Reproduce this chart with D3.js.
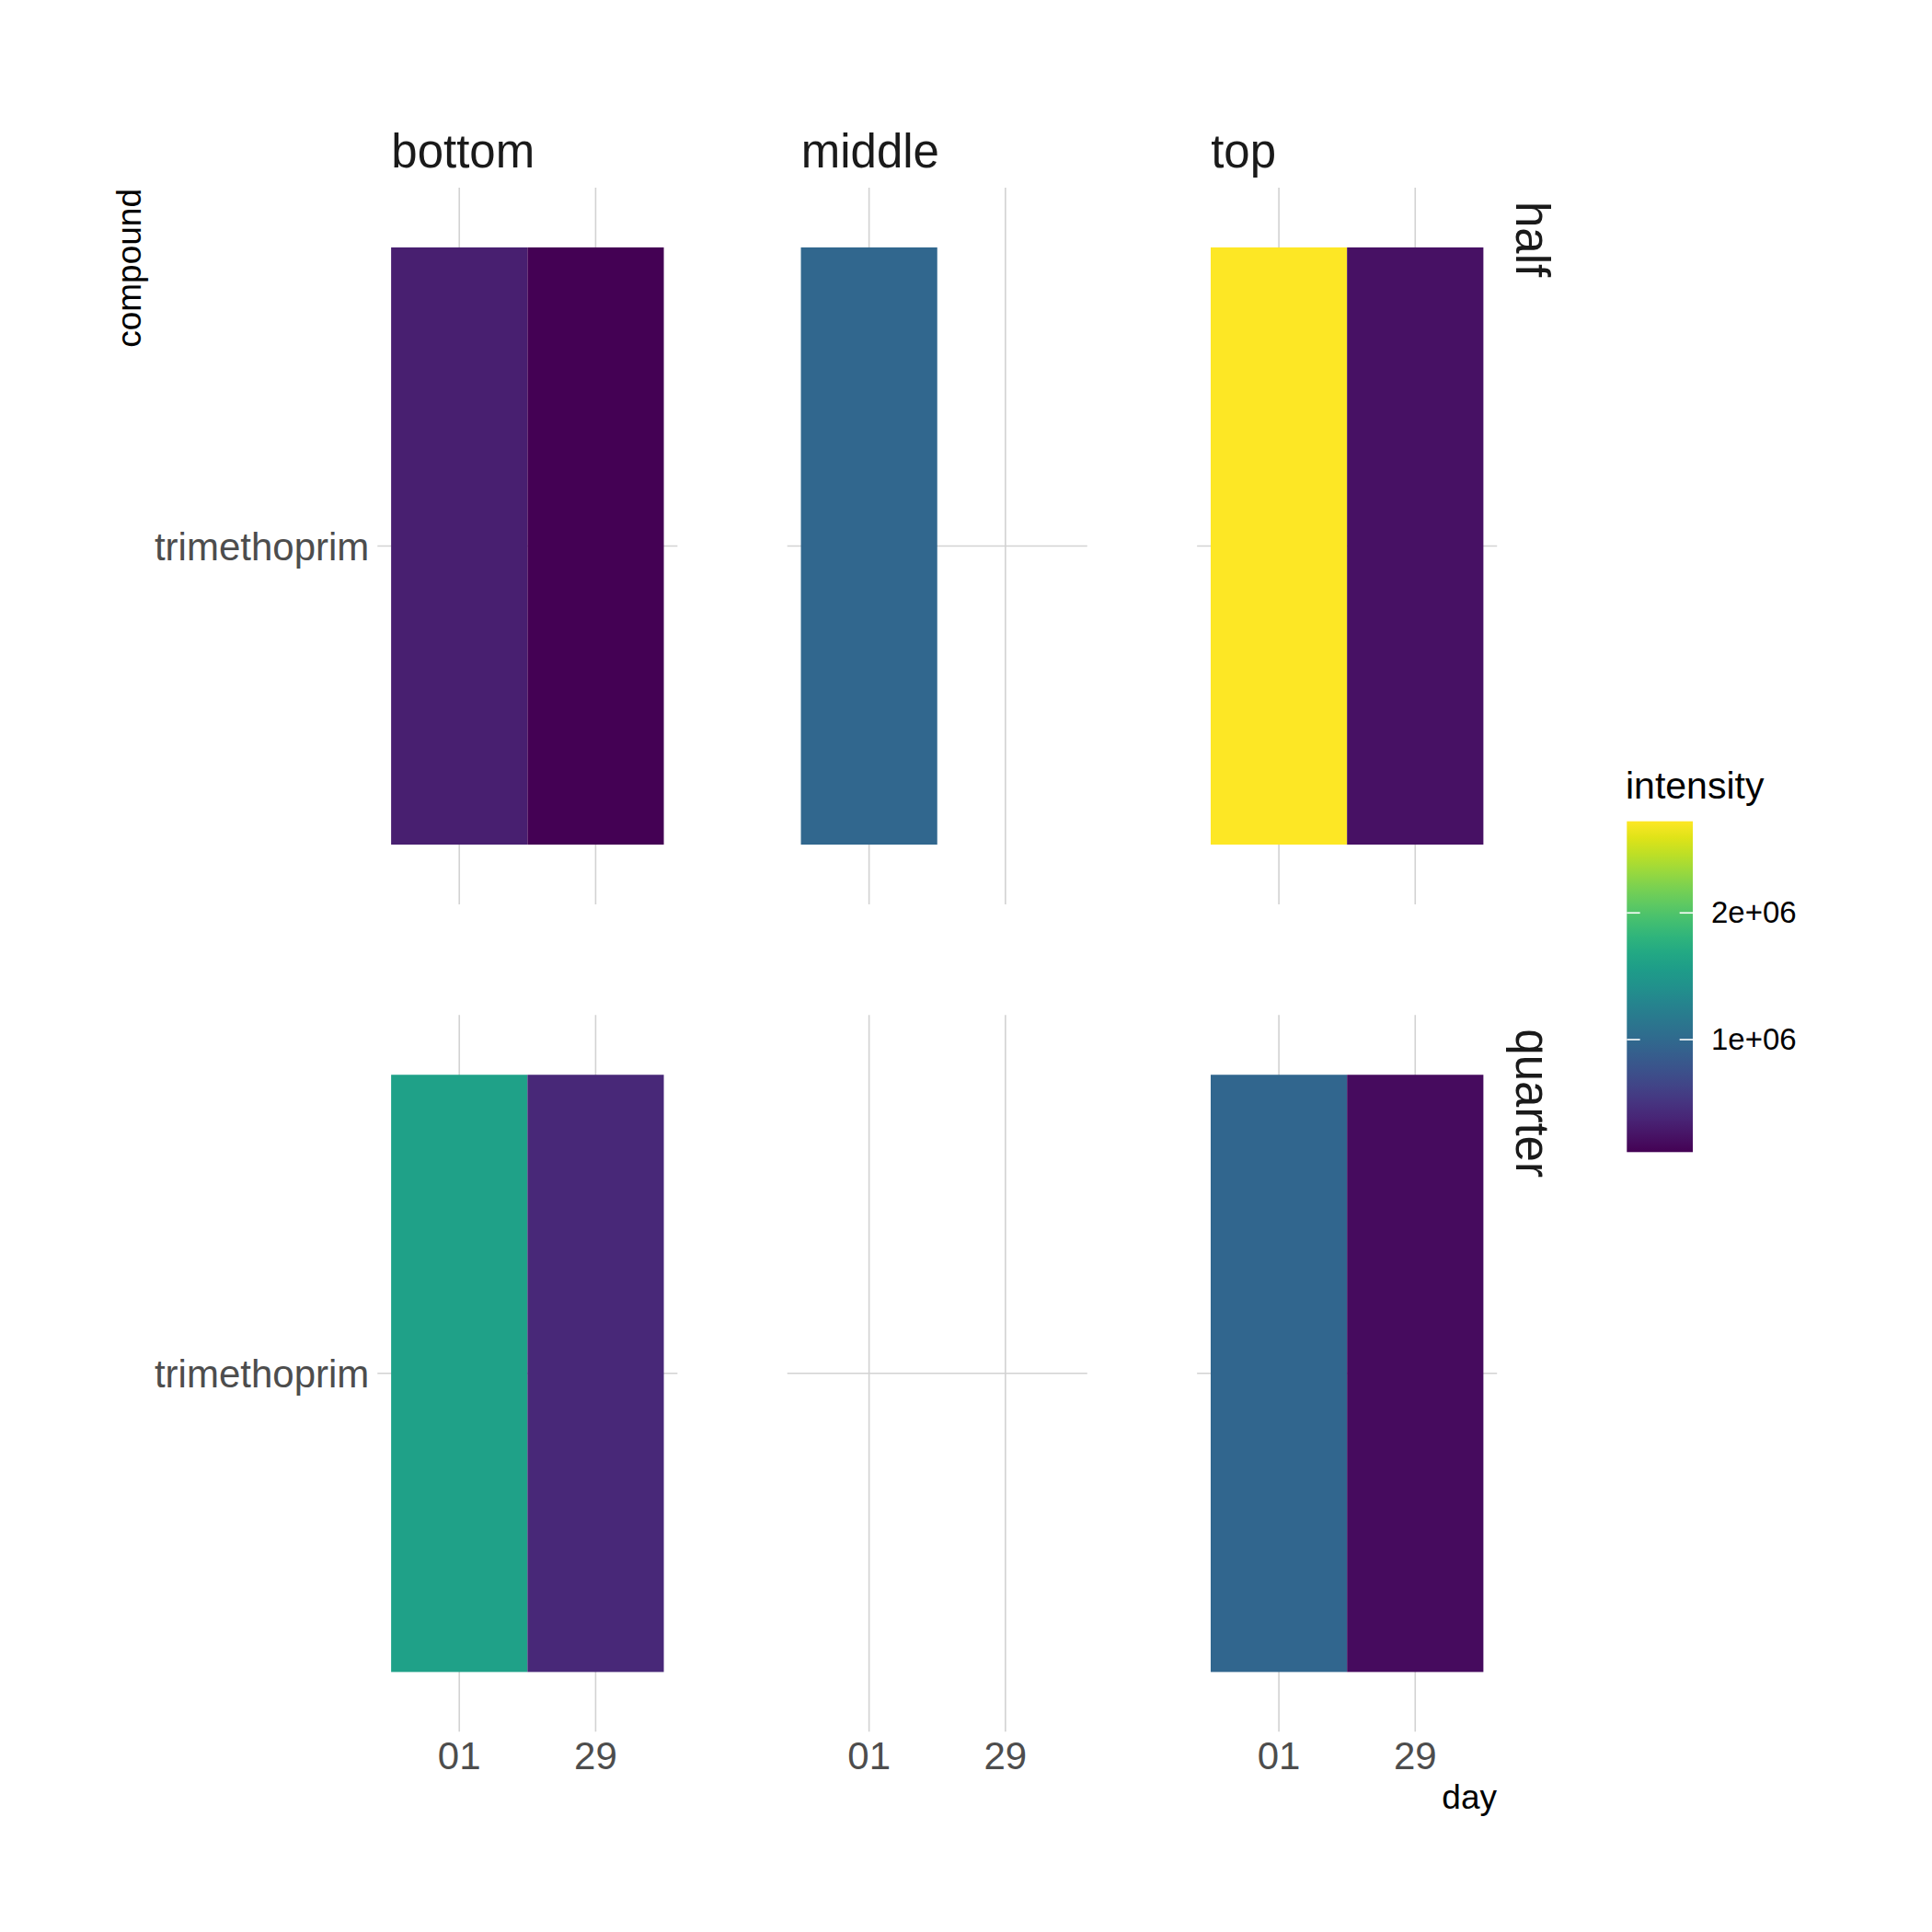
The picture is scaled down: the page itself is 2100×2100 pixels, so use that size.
<!DOCTYPE html>
<html>
<head>
<meta charset="utf-8">
<script src="https://cdn.jsdelivr.net/npm/d3@7"></script>
<style>
  body { margin: 0; background: #fff; }
  text { font-family: "Liberation Sans", Arial, sans-serif; }
</style>
</head>
<body>
<div id="chart"></div>
<script>
// Facets and categories
const positions = ["bottom", "middle", "top"];
const dilutions = ["half", "quarter"];
const days = ["01", "29"];
const compounds = ["trimethoprim"];

// intensity per position (bottom, middle, top); null = no measurement
const halfDay01 = [334000, 974000, 2723000];
const halfDay29 = [112000, null, 230000];
const quarterDay01 = [1600000, null, 960000];
const quarterDay29 = [399000, null, 190000];

const legendTicks = [1e6, 2e6];

// Build tile records from the arrays
const byDilution = { half: [halfDay01, halfDay29], quarter: [quarterDay01, quarterDay29] };
const tiles = [];
dilutions.forEach(dil => {
  positions.forEach((pos, pi) => {
    days.forEach((day, di) => {
      const v = byDilution[dil][di][pi];
      if (v != null) tiles.push({ dilution: dil, position: pos, day: day, compound: compounds[0], intensity: v });
    });
  });
});

const width = 2100, height = 2100;
const svg = d3.select("#chart").append("svg")
  .attr("width", width)
  .attr("height", height)
  .attr("viewBox", [0, 0, width, height]);

svg.append("rect").attr("width", width).attr("height", height).attr("fill", "#fff");

// Facet layout
const colScale = d3.scaleBand().domain(positions).range([410.3, 1627.2]).paddingInner(0.268);
const rowScale = d3.scaleBand().domain(dilutions).range([204, 1882.3]).paddingInner(0.1338);
const pw = colScale.bandwidth();
const ph = rowScale.bandwidth();

// Within-panel scales (ggplot discrete expansion)
const x = d3.scaleBand().domain(days).range([0, pw]).paddingInner(0).paddingOuter(0.1);
const y = d3.scaleBand().domain(compounds).range([0, ph]).paddingInner(0).paddingOuter(0.1);

const extent = d3.extent(tiles, d => d.intensity);
const colour = d3.scaleSequential(d3.interpolateViridis).domain(extent);

const gridColour = "#d2d2d2";

dilutions.forEach(dil => {
  positions.forEach(pos => {
    const g = svg.append("g")
      .attr("transform", `translate(${colScale(pos)},${rowScale(dil)})`);

    // grid lines
    g.selectAll("line.vx")
      .data(days)
      .join("line")
      .attr("x1", d => x(d) + x.bandwidth() / 2)
      .attr("x2", d => x(d) + x.bandwidth() / 2)
      .attr("y1", 0)
      .attr("y2", ph)
      .attr("stroke", gridColour)
      .attr("stroke-width", 1.6);

    g.selectAll("line.hy")
      .data(compounds)
      .join("line")
      .attr("x1", 0)
      .attr("x2", pw)
      .attr("y1", d => y(d) + y.bandwidth() / 2)
      .attr("y2", d => y(d) + y.bandwidth() / 2)
      .attr("stroke", gridColour)
      .attr("stroke-width", 1.6);

    // tiles
    g.selectAll("rect")
      .data(tiles.filter(t => t.dilution === dil && t.position === pos))
      .join("rect")
      .attr("x", d => x(d.day))
      .attr("y", d => y(d.compound))
      .attr("width", x.bandwidth())
      .attr("height", y.bandwidth())
      .attr("fill", d => colour(d.intensity));

    // y axis labels (first column only)
    if (pos === positions[0]) {
      const ax = g.append("g").call(d3.axisLeft(y).tickSize(0).tickPadding(9));
      ax.select(".domain").remove();
      ax.selectAll("text")
        .attr("font-size", 42)
        .attr("font-family", "Liberation Sans, Arial, sans-serif")
        .attr("fill", "#4d4d4d")
        .attr("dy", "0.36em");
    }

    // x axis labels (bottom row only)
    if (dil === dilutions[dilutions.length - 1]) {
      const ax = g.append("g")
        .attr("transform", `translate(0,${ph})`)
        .call(d3.axisBottom(x).tickSize(0).tickPadding(11));
      ax.select(".domain").remove();
      ax.selectAll("text")
        .attr("font-size", 42)
        .attr("font-family", "Liberation Sans, Arial, sans-serif")
        .attr("fill", "#4d4d4d");
    }
  });
});

// strip labels on top
svg.selectAll("text.strip-x")
  .data(positions)
  .join("text")
  .attr("class", "strip-x")
  .attr("x", d => colScale(d) + 15)
  .attr("y", 182)
  .attr("font-size", 51)
  .attr("fill", "#1a1a1a")
  .text(d => d);

// strip labels on the right
svg.selectAll("text.strip-y")
  .data(dilutions)
  .join("text")
  .attr("class", "strip-y")
  .attr("transform", d => `translate(1648,${rowScale(d) + 15}) rotate(90)`)
  .attr("font-size", 51)
  .attr("fill", "#1a1a1a")
  .text(d => d);

// axis titles
svg.append("text")
  .attr("x", 1627)
  .attr("y", 1966)
  .attr("text-anchor", "end")
  .attr("font-size", 37)
  .attr("fill", "#000")
  .text("day");

svg.append("text")
  .attr("transform", "translate(153,205) rotate(-90)")
  .attr("text-anchor", "end")
  .attr("font-size", 37)
  .attr("fill", "#000")
  .text("compound");

// colour bar legend
const barX = 1768.3, barW = 71.7, barTop = 892.7, barBottom = 1252.3;
const legendScale = d3.scaleLinear().domain(extent).range([barBottom, barTop]);

const defs = svg.append("defs");
const grad = defs.append("linearGradient")
  .attr("id", "viridis-grad")
  .attr("x1", 0).attr("y1", 1).attr("x2", 0).attr("y2", 0);
grad.selectAll("stop")
  .data(d3.range(0, 1.0001, 0.05))
  .join("stop")
  .attr("offset", d => d)
  .attr("stop-color", d => d3.interpolateViridis(d));

svg.append("text")
  .attr("x", 1767)
  .attr("y", 868)
  .attr("font-size", 41)
  .attr("fill", "#000")
  .text("intensity");

svg.append("rect")
  .attr("x", barX)
  .attr("y", barTop)
  .attr("width", barW)
  .attr("height", barBottom - barTop)
  .attr("fill", "url(#viridis-grad)");

const tickLen = barW * 0.2;
svg.selectAll("line.ltick-l")
  .data(legendTicks)
  .join("line")
  .attr("x1", barX).attr("x2", barX + tickLen)
  .attr("y1", d => legendScale(d)).attr("y2", d => legendScale(d))
  .attr("stroke", "#fff").attr("stroke-width", 1.6);
svg.selectAll("line.ltick-r")
  .data(legendTicks)
  .join("line")
  .attr("x1", barX + barW - tickLen).attr("x2", barX + barW)
  .attr("y1", d => legendScale(d)).attr("y2", d => legendScale(d))
  .attr("stroke", "#fff").attr("stroke-width", 1.6);

const legendAxis = svg.append("g")
  .attr("transform", `translate(${barX + barW},0)`)
  .call(d3.axisRight(legendScale)
    .tickValues(legendTicks)
    .tickSize(0)
    .tickPadding(20)
    .tickFormat(d => (d / 1e6) + "e+06"));
legendAxis.select(".domain").remove();
legendAxis.selectAll("text")
  .attr("font-size", 33)
  .attr("font-family", "Liberation Sans, Arial, sans-serif")
  .attr("fill", "#000");
</script>
</body>
</html>
